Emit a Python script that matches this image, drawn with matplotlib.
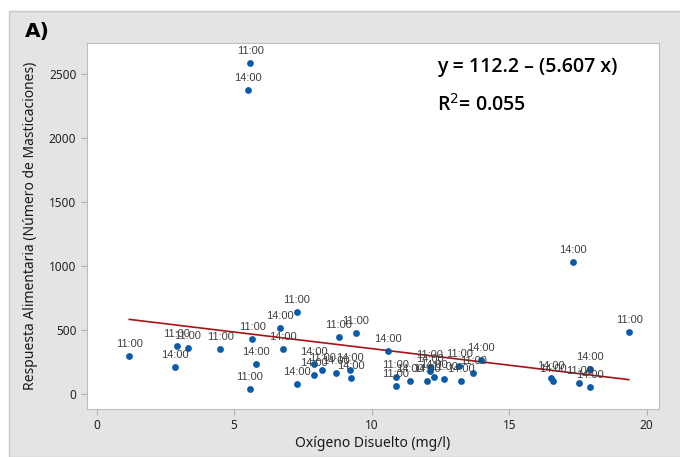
import matplotlib
matplotlib.use("Agg")
import matplotlib.pyplot as plt
from matplotlib.patches import Rectangle
import numpy as np

# dissolved oxygen (mg/l), feeding response, sampling hour
oxygen = [1.19, 2.92, 2.85, 3.31, 4.49, 5.66, 5.79, 5.57, 6.65, 7.28,
          6.76, 7.27, 8.80, 9.43, 7.89, 7.89, 8.20, 8.71, 9.20, 9.25,
          10.59, 10.87, 10.87, 11.40, 12.00, 12.12, 12.12, 12.25, 12.64, 13.19,
          13.26, 13.70, 13.96, 17.33, 19.37, 16.52, 16.58, 17.55, 17.94, 17.95,
          5.59, 5.51]
response = [297, 377, 213, 361, 354, 429, 239, 41, 520, 640,
            356, 78, 445, 479, 237, 148, 187, 164, 187, 125,
            336, 135, 65, 104, 104, 213, 184, 135, 122, 221,
            104, 169, 270, 1035, 486, 130, 106, 86, 59, 195,
            2589, 2373]
hours = ["11:00", "11:00", "14:00", "11:00", "11:00", "11:00", "14:00", "11:00", "14:00", "11:00",
         "14:00", "14:00", "11:00", "11:00", "14:00", "14:00", "11:00", "14:00", "14:00", "14:00",
         "14:00", "11:00", "11:00", "14:00", "14:00", "11:00", "14:00", "14:00", "11:00", "11:00",
         "14:00", "11:00", "14:00", "14:00", "11:00", "14:00", "14:00", "11:00", "14:00", "14:00",
         "11:00", "14:00"]

# drawn fit line (as it appears in the figure)
fit_intercept = 616.0
fit_slope = -25.9
fit_range = [1.19, 19.35]

x_ticks = [0, 5, 10, 15, 20]
y_ticks = [0, 500, 1000, 1500, 2000, 2500]

plt.rcParams['font.family'] = ['Noto Sans', 'DejaVu Sans']

fig = plt.figure(figsize=(6.8, 4.57), dpi=100)
fig.patch.set_facecolor("white")
fig.patches.append(Rectangle((9 / 680, 0), 1, 446 / 457, transform=fig.transFigure,
                             facecolor="#e4e4e4", edgecolor="#c9c9c9", lw=1, zorder=-5))

ax = fig.add_axes([0.1275, 0.106, 0.8421, 0.799])
ax.set_facecolor("white")

fx = np.array(fit_range)
ax.plot(fx, fit_intercept + fit_slope * fx, color="#a31515", lw=1.2, zorder=2)
ax.scatter(oxygen, response, s=24, color="#0a5aa8", zorder=3, linewidths=0)
for x, y, h in zip(oxygen, response, hours):
    ax.annotate(h, (x, y), xytext=(0, 5), textcoords="offset points", ha="center",
                va="bottom", fontsize=8, color="#404040", family="Liberation Sans")

ax.set_xlim(-0.36, 20.46)
ax.set_ylim(-111, 2740)
ax.set_xticks(x_ticks)
ax.set_yticks(y_ticks)
ax.tick_params(colors="#222222", labelsize=8.5, length=4, color="#b0b0b0")
for s in ax.spines.values():
    s.set_color("#bdbdbd")

ax.set_xlabel("Oxígeno Disuelto (mg/l)", fontsize=10, color="#1a1a1a")
ax.set_ylabel("Respuesta Alimentaria (Número de Masticaciones)", fontsize=10, color="#1a1a1a")
ax.xaxis.set_label_coords(0.5, -0.075)
ax.yaxis.set_label_coords(-0.085, 0.5)

ax.text(0.612, 0.935, "y = 112.2 – (5.607 x)", transform=ax.transAxes, fontsize=14,
        fontweight="semibold", va="center", family="Open Sans")
ax.text(0.612, 0.831, "R$^2$= 0.055", transform=ax.transAxes, fontsize=14,
        fontweight="semibold", va="center", family="Open Sans")

fig.text(25 / 680, 1 - 32 / 457, "A)", fontsize=14.5, fontweight="bold", va="center",
         family="Liberation Sans Narrow")

fig.savefig("out.png", dpi=100, facecolor=fig.get_facecolor())
